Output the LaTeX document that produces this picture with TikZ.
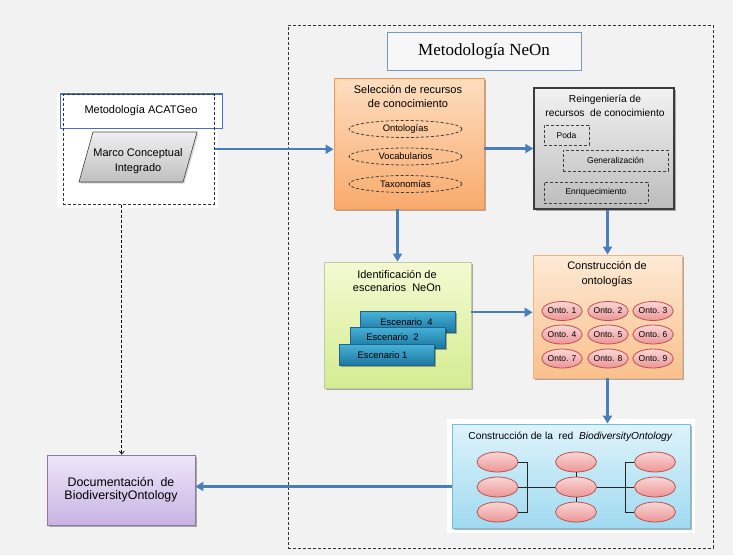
\documentclass[tikz,border=0pt]{standalone}
\usepackage{fontspec}
\setmainfont{Liberation Sans}
\newfontfamily\titleserif{Liberation Serif}
\usetikzlibrary{arrows.meta,shapes.geometric,shadows,calc}

\definecolor{bgcol}{RGB}{242,242,242}
\definecolor{flowblue}{RGB}{74,126,187}
\definecolor{acatblue}{RGB}{72,112,192}
\definecolor{neonblue}{RGB}{120,150,200}
\definecolor{selTop}{RGB}{253,222,192}
\definecolor{selBot}{RGB}{249,170,108}
\definecolor{selEdge}{RGB}{240,150,80}
\definecolor{reTop}{RGB}{242,242,242}
\definecolor{reBot}{RGB}{188,188,188}
\definecolor{reEdge}{RGB}{60,60,60}
\definecolor{idTop}{RGB}{244,250,210}
\definecolor{idBot}{RGB}{212,236,145}
\definecolor{idEdge}{RGB}{190,205,160}
\definecolor{coTop}{RGB}{253,234,214}
\definecolor{coBot}{RGB}{250,192,140}
\definecolor{coEdge}{RGB}{240,180,130}
\definecolor{ontTop}{RGB}{250,214,214}
\definecolor{ontBot}{RGB}{236,150,150}
\definecolor{ontEdge}{RGB}{192,80,77}
\definecolor{escTop}{RGB}{70,178,215}
\definecolor{escBot}{RGB}{28,118,160}
\definecolor{escEdge}{RGB}{30,100,140}
\definecolor{redTop}{RGB}{222,243,251}
\definecolor{redBot}{RGB}{160,218,240}
\definecolor{redEdge}{RGB}{120,188,220}
\definecolor{docTop}{RGB}{238,230,248}
\definecolor{docBot}{RGB}{200,180,228}
\definecolor{docEdge}{RGB}{140,120,160}

\tikzset{
  box/.style={rectangle, inner sep=0pt},
  shade/.style={drop shadow={shadow xshift=1.5pt, shadow yshift=-1.5pt, opacity=0.3, fill=black}},
  flow/.style={draw=flowblue, line width=2.2pt, -{Triangle[length=8pt,width=9pt]}},
  dashlink/.style={draw=black, line width=0.7pt, dash pattern=on 3pt off 2pt, -{Straight Barb[length=3pt,width=5pt]}},
  t11/.style={font=\fontsize{11}{13.5}\selectfont, align=center},
  t10/.style={font=\fontsize{10.2}{14}\selectfont, align=center},
  t9/.style={font=\fontsize{9.4}{11}\selectfont},
  t8/.style={font=\fontsize{8.5}{10}\selectfont},
  resource/.style={ellipse, draw=black!75, line width=0.8pt, dash pattern=on 3pt off 2pt, minimum width=113pt, minimum height=17pt, inner sep=0pt, t9},
  task/.style={rectangle, draw=black!75, line width=0.8pt, dash pattern=on 3pt off 2pt, inner sep=0pt, t8},
  onto/.style={ellipse, draw=ontEdge, line width=0.8pt, top color=ontTop, bottom color=ontBot, minimum width=40pt, minimum height=19pt, inner sep=0pt, t8},
  netnode/.style={ellipse, draw=ontEdge, line width=0.8pt, top color=ontTop, bottom color=ontBot, minimum width=41pt, minimum height=20pt, inner sep=0pt},
  scen/.style={rectangle, draw=escEdge, line width=0.5pt, top color=escTop, bottom color=escBot, minimum width=95pt, minimum height=21pt, inner sep=0pt, t9, shade},
}

\begin{document}
\begin{tikzpicture}[x=1pt,y=-1pt]
\useasboundingbox (0,0) rectangle (733,555);
\fill[bgcol] (0,0) rectangle (733,555);

% NeOn methodology frame
\node[box, draw=black!80, line width=0.6pt, dash pattern=on 3pt off 2pt, minimum width=425pt, minimum height=523pt] (neon) at (500.5,286.5) {};
\node[box, draw=neonblue, line width=1pt, fill=bgcol!60!white, minimum width=194pt, minimum height=38pt, font=\titleserif\fontsize{17}{20}\selectfont] (neontitle) at (484,51) {Metodología NeOn};

% ACATGeo methodology
\node[box, fill=white, minimum width=161pt, minimum height=116pt] (acatbg) at (137.5,150) {};
\node[box, draw=acatblue, line width=1pt, fill=white, minimum width=162pt, minimum height=34pt, t11] (acattitle) at (141,111) {Metodología ACATGeo};
\node[box, draw=black!80, line width=1pt, dash pattern=on 3pt off 2pt, minimum width=151pt, minimum height=109.5pt] (acat) at (138.5,149.25) {};
\draw[acatblue, line width=1pt] (acattitle.north west) -- (acattitle.north east);
\node[inner sep=0pt] (marco) at (138,157) {};
\filldraw[draw=black!70, line width=0.6pt, top color=gray!12, bottom color=gray!50, drop shadow={shadow xshift=1.5pt, shadow yshift=-1.5pt, opacity=0.3}]
  ($(marco)+(-45,-25)$) -- ($(marco)+(59,-25)$) -- ($(marco)+(45,25)$) -- ($(marco)+(-59,25)$) -- cycle;
\node[t11, font=\fontsize{11}{15}\selectfont, inner sep=0pt] (marcotext) at (138,161) {Marco Conceptual\\Integrado};

% Knowledge resource selection
\node[box, draw=selEdge, line width=0.8pt, top color=selTop, bottom color=selBot, minimum width=150pt, minimum height=131pt, shade] (sel) at (409,143.5) {};
\node[t11, inner sep=0pt] (seltitle) at (408,96.5) {Selección de recursos\\de conocimiento};
\node[resource] (ontologias) at (405.5,129) {Ontologías};
\node[resource] (vocab) at (405.5,156.5) {Vocabularios};
\node[resource] (taxo) at (405.5,184) {Taxonomías};

% Knowledge resource reengineering
\node[box, draw=reEdge, line width=1.4pt, top color=reTop, bottom color=reBot, minimum width=140pt, minimum height=121pt, shade] (reing) at (604,148.5) {};
\node[t10, inner sep=0pt] (reingtitle) at (605,106) {Reingeniería de\\recursos\ \ de conocimiento};
\node[task, minimum width=45pt, minimum height=20pt] (poda) at (566.5,135) {Poda};
\node[task, minimum width=105pt, minimum height=21pt] (gen) at (615.5,160.5) {Generalización};
\node[task, minimum width=104pt, minimum height=21pt] (enr) at (596,192.5) {Enriquecimiento};

% NeOn scenario identification
\node[box, draw=idEdge, line width=0.8pt, top color=idTop, bottom color=idBot, minimum width=147pt, minimum height=126pt, shade] (ident) at (397.5,325) {};
\node[t11, inner sep=0pt] (identtitle) at (397,281) {Identificación de\\escenarios\ \ NeOn};
\node[scen] (esc4) at (408,322) {\hspace*{-3pt}Escenario\ \ 4};
\node[scen] (esc2) at (397.5,337.5) {\hspace*{-10pt}Escenario\ \ 2};
\node[scen] (esc1) at (386.5,355) {\hspace*{-8pt}Escenario 1};

% Ontology construction
\node[box, draw=coEdge, line width=0.8pt, top color=coTop, bottom color=coBot, minimum width=149pt, minimum height=123pt, shade] (cons) at (607.5,316.5) {};
\node[t11, font=\fontsize{11}{15}\selectfont, inner sep=0pt] (constitle) at (607,274.5) {Construcción de\\ontologías};
\node[onto] (o1) at (562,311) {Onto. 1};
\node[onto] (o2) at (608,311) {Onto. 2};
\node[onto] (o3) at (653,311) {Onto. 3};
\node[onto] (o4) at (562,334.5) {Onto. 4};
\node[onto] (o5) at (608,334.5) {Onto. 5};
\node[onto] (o6) at (653,334.5) {Onto. 6};
\node[onto] (o7) at (562,358.5) {Onto. 7};
\node[onto] (o8) at (608,358.5) {Onto. 8};
\node[onto] (o9) at (653,358.5) {Onto. 9};

% BiodiversityOntology network
\node[box, fill=white, minimum width=248pt, minimum height=114pt] (redbg) at (571,476) {};
\node[box, draw=redEdge, line width=0.8pt, top color=redTop, bottom color=redBot, minimum width=238pt, minimum height=104pt, shade] (red) at (571,476) {};
\node[font=\fontsize{10.2}{12}\selectfont, inner sep=0pt] (redtitle) at (570.5,436.5) {Construcción de la\ \ red\ \ \textit{BiodiversityOntology}};
\node[netnode] (l1) at (497.5,462) {};
\node[netnode] (l2) at (497.5,487) {};
\node[netnode] (l3) at (497.5,512) {};
\node[netnode] (c1) at (576,462) {};
\node[netnode] (c2) at (576,487) {};
\node[netnode] (c3) at (576,512) {};
\node[netnode] (r1) at (655,462) {};
\node[netnode] (r2) at (655,487) {};
\node[netnode] (r3) at (655,512) {};
\coordinate (lbar) at (527,487);
\coordinate (rbar) at (625,487);
\begin{scope}[draw=black!85, line width=0.8pt]
  \draw (l1.east) -- (l1.east -| lbar) -- (l3.east -| lbar) -- (l3.east);
  \draw (l2.east) -- (c2.west);
  \draw (c1.south) -- (c2.north);
  \draw (c2.south) -- (c3.north);
  \draw (r1.west) -- (r1.west -| rbar) -- (r3.west -| rbar) -- (r3.west);
  \draw (c2.east) -- (r2.west);
\end{scope}

% Documentation
\node[box, draw=docEdge, line width=0.8pt, top color=docTop, bottom color=docBot, minimum width=148pt, minimum height=70pt, shade, font=\fontsize{12.4}{15}\selectfont, align=center] (doc) at (121,490) {\raisebox{2pt}{\shortstack{Documentación\ \ de\\[1pt]BiodiversityOntology}}};

% Flow between the stages
\draw[flow] (acat.east) -- (acat.east -| sel.west);
\draw[flow] (sel.east |- reing.west) -- (reing.west);
\draw[flow] (ident.north |- sel.south) -- (ident.north);
\draw[flow] (cons.north |- reing.south) -- (cons.north);
\coordinate (identout) at ($(ident.north east)!0.4!(ident.south east)$);
\draw[flow] (identout) -- (identout -| cons.west);
\draw[flow] (cons.south) -- (cons.south |- red.north);
\coordinate (redout) at ($(red.north west)!0.6!(red.south west)$);
\draw[flow] (redout) -- (redout -| doc.east);
\coordinate (acatout) at ($(acat.south west)!0.39!(acat.south east)$);
\draw[dashlink] (acatout) -- (acatout |- doc.north);
\end{tikzpicture}
\end{document}
